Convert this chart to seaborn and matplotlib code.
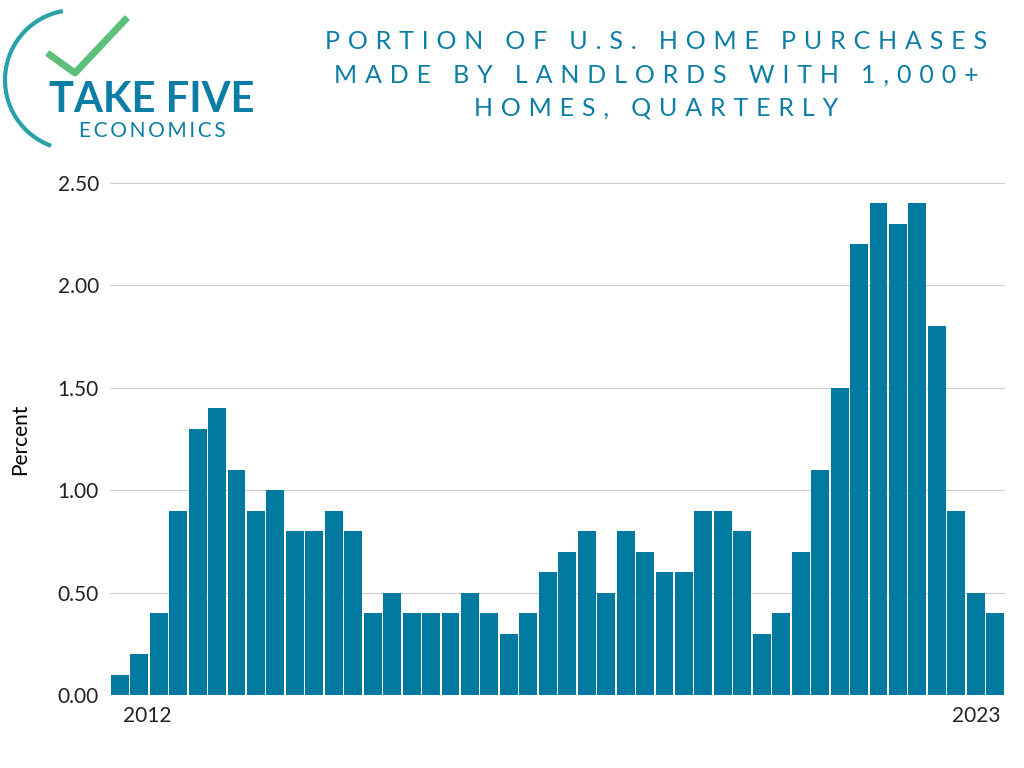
import matplotlib
matplotlib.use("Agg")
import matplotlib.pyplot as plt
import seaborn as sns
import pandas as pd
from matplotlib.patches import Arc

values = [0.1, 0.2, 0.4, 0.9, 1.3, 1.4, 1.1, 0.9, 1.0, 0.8, 0.8, 0.9, 0.8, 0.4, 0.5, 0.4,
          0.4, 0.4, 0.5, 0.4, 0.3, 0.4, 0.6, 0.7, 0.8, 0.5, 0.8, 0.7, 0.6, 0.6, 0.9, 0.9,
          0.8, 0.3, 0.4, 0.7, 1.1, 1.5, 2.2, 2.4, 2.3, 2.4, 1.8, 0.9, 0.5, 0.4]
quarters = [f"{2012 + i // 4}Q{i % 4 + 1}" for i in range(len(values))]
yticks = [0.0, 0.5, 1.0, 1.5, 2.0, 2.5]
df = pd.DataFrame({"q": quarters, "v": values})

def spaced(s, sep="\u2009"):
    out = []
    for w in s.split(" "):
        out.append(sep.join(w))
    return (sep + " " + sep).join(out)

fig = plt.figure(figsize=(10.24, 7.68), dpi=100)
ax = fig.add_axes([110/1024, 1-695/768, 895/1024, 512/768])
sns.barplot(data=df, x="q", y="v", color="#007aa0", saturation=1, width=0.92, ax=ax)
ax.set_xlim(-0.5, len(values) - 0.5)
ax.set_ylim(0, 2.5)
ax.set_yticks(yticks)
ax.set_yticklabels([f"{t:.2f}" for t in yticks], fontsize=15, family="Lato", color="#222")
ax.set_xticks([1.4, 44])
ax.set_xticklabels(["2012", "2023"], fontsize=15, family="Lato", color="#222")
ax.tick_params(length=0, pad=8)
ax.set_xlabel("")
ax.set_ylabel("Percent", fontsize=15, family="Lato", labelpad=20)
ax.yaxis.grid(True, color="#cccccc", lw=0.8)
ax.set_axisbelow(True)
for s in ax.spines.values():
    s.set_visible(False)

lines = ["PORTION OF U.S. HOME PURCHASES", "MADE BY LANDLORDS WITH 1,000+", "HOMES, QUARTERLY"]
fig.text(656/1024, 1-75/768, "\n".join(spaced(l, "\u2009\u2009\u200a") for l in lines),
         ha="center", va="center", fontsize=18, color="#0c7ea6", family="Lato",
         linespacing=1.55)
# logo
fig.text(152/1024, 1-100/768, "TAKE FIVE", ha="center", va="center", fontsize=30,
         fontweight="bold", color="#0c7ea6", family="Lato")
fig.text(152/1024, 1-131/768, spaced("ECONOMICS"), ha="center", va="center", fontsize=15,
         color="#0c7ea6", family="Lato")
lax = fig.add_axes([0, 1-165/768, 160/1024, 165/768])
lax.set_xlim(0, 160); lax.set_ylim(0, 165); lax.axis("off")
lax.add_patch(Arc((75, 85), 140, 140, theta1=100, theta2=250, color="#2aa0a8", lw=3))
lax.plot([50, 75, 125], [110, 92, 145], color="#5cbf7a", lw=5)
fig.savefig("out.png", dpi=100)
